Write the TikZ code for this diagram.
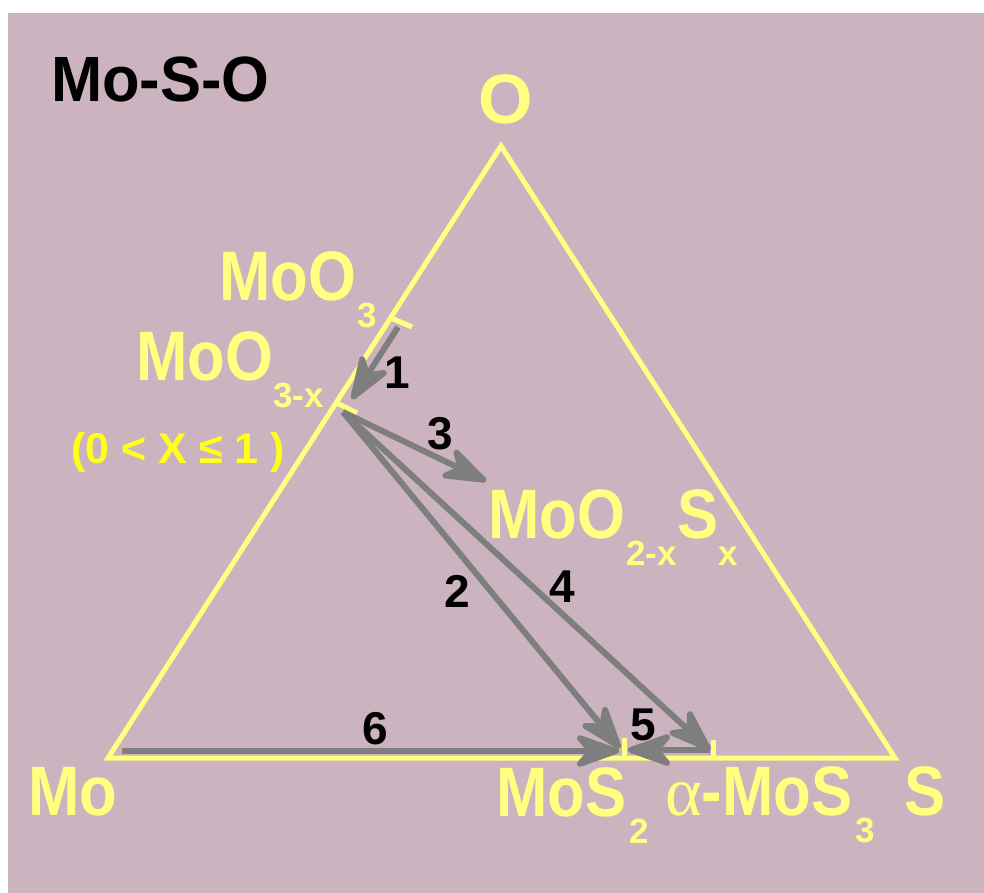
\documentclass[tikz,border=0pt]{standalone}
\usepackage{fontspec}
\setmainfont{Liberation Sans}
\newfontfamily\labf{Liberation Sans}[FakeStretch=0.88]
\newfontfamily\titf{Liberation Sans}[FakeStretch=0.96]
\newfontfamily\plainf{Liberation Sans}
\newfontfamily\serf{Liberation Serif}
\usetikzlibrary{arrows.meta}
\definecolor{bg}{RGB}{203,180,191}
\definecolor{ylw}{RGB}{255,255,128}
\definecolor{ylwb}{RGB}{255,255,25}
\definecolor{arr}{RGB}{126,126,126}
\newcommand\biglbl[1]{{\fontsize{70}{70}\selectfont\labf\bfseries #1}}
\newcommand\sublbl[1]{\raisebox{-27pt}{\fontsize{35}{35}\selectfont\plainf\bfseries #1}}
\tikzset{
  lbl/.style={inner sep=0pt, anchor=base west, text=ylw},
  num/.style={inner sep=0pt, anchor=center, text=black, font=\fontsize{46}{46}\selectfont\plainf\bfseries},
  edge/.style={draw=ylw, line width=5pt},
  tick/.style={draw=ylw, line width=5pt},
  rx/.style={draw=arr, line width=6pt, -{Stealth[length=54pt,width=38pt,inset=16pt,round]}},
}
\begin{document}
\begin{tikzpicture}[x=1pt,y=-1pt]
\fill[white] (0,0) rectangle (984,893);
\fill[bg] (8,13) rectangle (984,893);
\useasboundingbox (0,0) rectangle (984,893);

% vertices
\coordinate (Mo) at (108,758);
\coordinate (O) at (501,146);
\coordinate (S) at (895,758);
\draw[edge, line join=miter] (Mo) -- (O) -- (S) -- cycle;

% ticks
\coordinate (t3a) at (391,318);
\coordinate (t3b) at (412,327);
\coordinate (t3xa) at (337,403);
\coordinate (t3xb) at (357,413);
\coordinate (tma) at (624,738);
\coordinate (tmb) at (624,758);
\coordinate (tna) at (713,740);
\coordinate (tnb) at (713,758);
\draw[tick] (t3a) -- (t3b);
\draw[tick] (t3xa) -- (t3xb);
\draw[tick] (tma) -- (tmb);
\draw[tick] (tna) -- (tnb);

% arrow end points
\coordinate (a1s) at (398,327);
\coordinate (a1e) at (352,399);
\coordinate (src) at (343,412);
\coordinate (mos2) at (620,748);
\coordinate (oxs) at (486,481);
\coordinate (amos3) at (710,750);
\coordinate (a5s) at (710,750);
\coordinate (a5e) at (628,750);
\coordinate (a6s) at (122,751);
\coordinate (a6e) at (619,751);

\draw[rx] (a1s) -- (a1e);
\draw[rx] (src) -- (mos2);
\draw[rx] (src) -- (oxs);
\draw[rx] (src) -- (amos3);
\draw[rx] (a5s) -- (a5e);
\draw[rx] (a6s) -- (a6e);

% labels
\node[inner sep=0pt, anchor=base west, text=black, font=\fontsize{64}{64}\selectfont\titf\bfseries] (title) at (51,102) {Mo-S-O};
\node[inner sep=0pt, anchor=base, text=ylw, font=\fontsize{70}{70}\selectfont\plainf\bfseries] (lO) at (506,124) {O};
\node[lbl] (lmoo3) at (219,300) {\biglbl{MoO}\hspace{1pt}\sublbl{3}};
\node[lbl] (lmoo3x) at (136,380) {\biglbl{MoO}\sublbl{3-x}};
\node[inner sep=0pt, anchor=base west, text=ylwb, font=\fontsize{43}{43}\selectfont\plainf\bfseries] (lx) at (71,463) {(0 < X ≤ 1 )};
\node[lbl] (lmoos) at (488,538) {\biglbl{MoO}\hspace{1pt}\sublbl{2-x}\hspace{1pt}\biglbl{S}\sublbl{x}};
\node[lbl] (lMo) at (28,815) {\biglbl{Mo}};
\node[lbl] (lmos2) at (496,816) {\biglbl{MoS}\hspace{3pt}\sublbl{2}};
\node[lbl] (lmos3) at (665,815) {{\fontsize{70}{70}\selectfont\serf α}\biglbl{-MoS}\hspace{3pt}\sublbl{3}};
\node[lbl] (lS) at (904,815) {\biglbl{S}};

% reaction numbers
\node[num] (n1) at (397,373) {1};
\node[num] (n2) at (457,591) {2};
\node[num] (n3) at (440,434) {3};
\node[num] (n4) at (562,587) {4};
\node[num] (n5) at (643,725) {5};
\node[num] (n6) at (375,729) {6};
\end{tikzpicture}
\end{document}
